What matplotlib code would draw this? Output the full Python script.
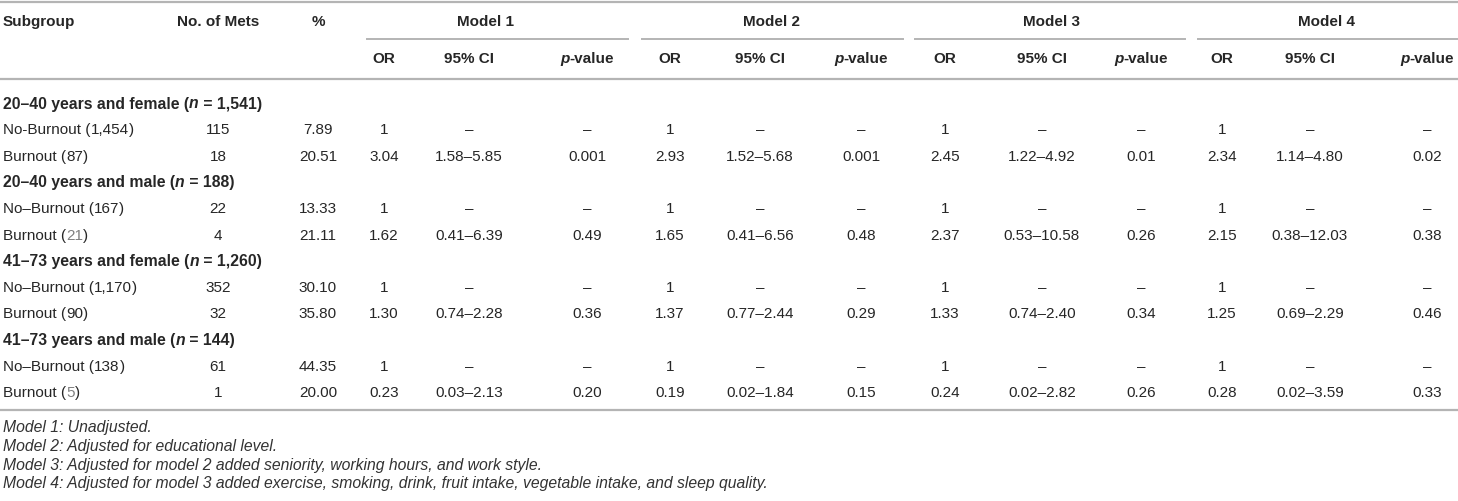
import matplotlib
matplotlib.use("Agg")
import matplotlib.pyplot as plt

# table content
col_heads = ["OR", "95% CI", "p-value"]
model_names = ["Model 1", "Model 2", "Model 3", "Model 4"]
group_names = ["20–40 years and female", "20–40 years and male",
               "41–73 years and female", "41–73 years and male"]
group_n = ["1,541", "188", "1,260", "144"]
row_names = [("No-Burnout", "1,454"), ("Burnout", "87"),
             ("No–Burnout", "167"), ("Burnout", "21"),
             ("No–Burnout", "1,170"), ("Burnout", "90"),
             ("No–Burnout", "138"), ("Burnout", "5")]
gray_n = [False, False, False, True, False, False, False, True]
n_mets = ["115", "18", "22", "4", "352", "32", "61", "1"]
pct = ["7.89", "20.51", "13.33", "21.11", "30.10", "35.80", "44.35", "20.00"]
m1_or = ["1", "3.04", "1", "1.62", "1", "1.30", "1", "0.23"]
m1_ci = ["–", "1.58–5.85", "–", "0.41–6.39", "–", "0.74–2.28", "–", "0.03–2.13"]
m1_p = ["–", "0.001", "–", "0.49", "–", "0.36", "–", "0.20"]
m2_or = ["1", "2.93", "1", "1.65", "1", "1.37", "1", "0.19"]
m2_ci = ["–", "1.52–5.68", "–", "0.41–6.56", "–", "0.77–2.44", "–", "0.02–1.84"]
m2_p = ["–", "0.001", "–", "0.48", "–", "0.29", "–", "0.15"]
m3_or = ["1", "2.45", "1", "2.37", "1", "1.33", "1", "0.24"]
m3_ci = ["–", "1.22–4.92", "–", "0.53–10.58", "–", "0.74–2.40", "–", "0.02–2.82"]
m3_p = ["–", "0.01", "–", "0.26", "–", "0.34", "–", "0.26"]
m4_or = ["1", "2.34", "1", "2.15", "1", "1.25", "1", "0.28"]
m4_ci = ["–", "1.14–4.80", "–", "0.38–12.03", "–", "0.69–2.29", "–", "0.02–3.59"]
m4_p = ["–", "0.02", "–", "0.38", "–", "0.46", "–", "0.33"]
notes = ["Model 1: Unadjusted.",
         "Model 2: Adjusted for educational level.",
         "Model 3: Adjusted for model 2 added seniority, working hours, and work style.",
         "Model 4: Adjusted for model 3 added exercise, smoking, drink, fruit intake, vegetable intake, and sleep quality."]

model_cols = [(m1_or, m1_ci, m1_p), (m2_or, m2_ci, m2_p),
              (m3_or, m3_ci, m3_p), (m4_or, m4_ci, m4_p)]

W, H = 1458, 502
fig = plt.figure(figsize=(W / 100, H / 100), dpi=100)
ax = fig.add_axes([0, 0, 1, 1])
ax.set_xlim(0, W)
ax.set_ylim(H, 0)
ax.axis("off")

plt.rcParams["font.family"] = ["Liberation Sans", "DejaVu Sans"]
FS = 11.0
TXT = "#262626"
LINE = "#b4b4b4"
renderer = fig.canvas.get_renderer()


def runs(x, y, parts, ha="left", size=FS):
    # draw a line of text made of several styled pieces
    widths = []
    for s, kw in parts:
        t = ax.text(0, 0, s, fontsize=size, **kw)
        widths.append(t.get_window_extent(renderer).width)
        t.remove()
    total = sum(widths)
    x0 = x - total / 2 if ha == "center" else x
    for (s, kw), w in zip(parts, widths):
        kw = dict(kw)
        kw.setdefault("color", TXT)
        ax.text(x0, y, s, fontsize=size, va="center", ha="left", **kw)
        x0 += w


x_left = 3
x_mets = 218
x_pct = 318
x_cols = [(384, 469, 587), (670, 760, 861), (945, 1042, 1141), (1222, 1310, 1427)]
x_models = [486, 772, 1052, 1327]
rule_spans = [(367, 628), (642, 903), (915, 1185), (1198, W)]

# rules
ax.plot([0, W], [3, 3], color=LINE, lw=1.6)
ax.plot([0, W], [80, 80], color=LINE, lw=1.6)
ax.plot([0, W], [411, 411], color=LINE, lw=1.6)
for a, b in rule_spans:
    ax.plot([a, b], [40, 40], color=LINE, lw=1.4)

# header
bold = {"fontweight": "bold"}
bolditalic = {"fontweight": "bold", "fontstyle": "italic"}
ax.text(x_left, 22, "Subgroup", fontsize=FS, va="center", color=TXT, **bold)
ax.text(x_mets, 22, "No. of Mets", fontsize=FS, va="center", ha="center", color=TXT, **bold)
ax.text(x_pct, 22, "%", fontsize=FS, va="center", ha="center", color=TXT, **bold)
for xm, name in zip(x_models, model_names):
    ax.text(xm, 22, name, fontsize=FS, va="center", ha="center", color=TXT, **bold)
for xs in x_cols:
    ax.text(xs[0], 59, col_heads[0], fontsize=FS, va="center", ha="center", color=TXT, **bold)
    ax.text(xs[1], 59, col_heads[1], fontsize=FS, va="center", ha="center", color=TXT, **bold)
    runs(xs[2], 59, [("p", bolditalic), ("-value", bold)], ha="center")

# body
row_h = 26.3
y = 104
for g in range(4):
    runs(x_left, y, [(group_names[g] + " (", bold), ("n", bolditalic),
                     (" = " + group_n[g] + ")", bold)], size=11.3)
    y += row_h
    for r in (2 * g, 2 * g + 1):
        name, n = row_names[r]
        ncol = "#808080" if gray_n[r] else TXT
        runs(x_left, y, [(name + " (", {}), (n, {"color": ncol}), (")", {})])
        ax.text(x_mets, y, n_mets[r], fontsize=FS, va="center", ha="center", color=TXT)
        ax.text(x_pct, y, pct[r], fontsize=FS, va="center", ha="center", color=TXT)
        for xs, cols in zip(x_cols, model_cols):
            for xc, col in zip(xs, cols):
                ax.text(xc, y, col[r], fontsize=FS, va="center", ha="center", color=TXT)
        y += row_h

# footnotes
for i, note in enumerate(notes):
    ax.text(x_left, 428 + i * 18.6, note, fontsize=11.3, style="italic",
            va="center", color="#333333")

fig.savefig("out.png", dpi=100)
